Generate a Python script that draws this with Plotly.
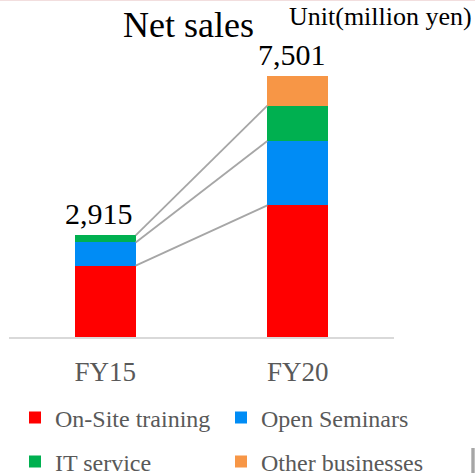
import plotly.graph_objects as go

years = ["FY15", "FY20"]
segments = ["On-Site training", "Open Seminars", "IT service", "Other businesses"]
on_site = [2050, 3780]
open_seminars = [665, 1847]
it_service = [200, 1013]
other_businesses = [0, 861]
totals = [2915, 7501]
total_labels = ["2,915", "7,501"]

series = [on_site, open_seminars, it_service, other_businesses]
colors = ["#ff0000", "#008cf5", "#00b050", "#f79646"]

W, H = 475, 473
L, R, T, B = 9, 81, 50, 136
pw, ph = W - L - R, H - T - B
YMAX = 8240
BW = 0.316
FONT = "Liberation Serif, Times New Roman, serif"

def px_x(px):
    return (px - L) / pw

def px_y(py):
    return (H - B - py) / ph

legend_names = ["legend", "legend2", "legend3", "legend4"]
legend_pos = [(15, 418), (221, 418), (15, 462), (221, 462)]

fig = go.Figure()
for i, (name, vals, col) in enumerate(zip(segments, series, colors)):
    fig.add_trace(go.Bar(
        x=years, y=vals, name=name, marker=dict(color=col, line=dict(width=0)),
        width=BW, legend=legend_names[i],
    ))

# connector lines between the segment tops
cum0, cum1 = 0, 0
for vals in series[:3]:
    cum0 += vals[0]
    cum1 += vals[1]
    fig.add_shape(type="line", xref="x", yref="y",
                  x0=0 + BW / 2, y0=cum0, x1=1 - BW / 2, y1=cum1,
                  line=dict(color="#a6a6a6", width=1.8), layer="above")

for i, (yr, tot, lab) in enumerate(zip(years, totals, total_labels)):
    fig.add_annotation(x=yr, y=tot, text=lab, showarrow=False, yanchor="bottom",
                       xshift=-6, yshift=3,
                       font=dict(family=FONT, size=30, color="#000000"))

fig.add_annotation(xref="paper", yref="paper", x=px_x(188), y=px_y(47), text="Net sales",
                   showarrow=False, xanchor="center", yanchor="bottom",
                   font=dict(family=FONT, size=36, color="#000000"))
fig.add_annotation(xref="paper", yref="paper", x=px_x(474), y=px_y(33), text="Unit(million yen)",
                   showarrow=False, xanchor="right", yanchor="bottom",
                   font=dict(family=FONT, size=26, color="#000000"))

# decorative edge marks
fig.add_shape(type="rect", xref="paper", yref="paper", x0=px_x(471.3), x1=px_x(474.7),
              y0=px_y(448), y1=px_y(473), fillcolor="#a6a6a6", line=dict(width=0))
fig.add_shape(type="line", xref="paper", yref="paper", x0=px_x(0), x1=px_x(475),
              y0=px_y(0.5), y1=px_y(0.5), line=dict(color="#f2dede", width=1))

legend_font = dict(family=FONT, size=24, color="#595959")
layout_legends = {}
for ln, (lx, ly) in zip(legend_names, legend_pos):
    layout_legends[ln] = dict(orientation="h", x=px_x(lx), y=px_y(ly), xanchor="left",
                              yanchor="middle", font=legend_font,
                              bgcolor="rgba(0,0,0,0)", borderwidth=0)

fig.update_layout(
    width=W, height=H, margin=dict(l=L, r=R, t=T, b=B, autoexpand=False),
    paper_bgcolor="white", plot_bgcolor="white",
    barmode="stack", bargap=0.5,
    xaxis=dict(type="category", range=[-0.5, 1.5], showgrid=False, showline=True,
               linecolor="#d9d9d9", linewidth=2, ticks="", ticklabelstandoff=10,
               tickfont=dict(family=FONT, size=27, color="#595959")),
    yaxis=dict(range=[0, YMAX], visible=False, showgrid=False),
    showlegend=True,
    **layout_legends,
)

fig.write_html("out.html", config={"displayModeBar": False},
               post_script="document.body.style.margin='0px';")
